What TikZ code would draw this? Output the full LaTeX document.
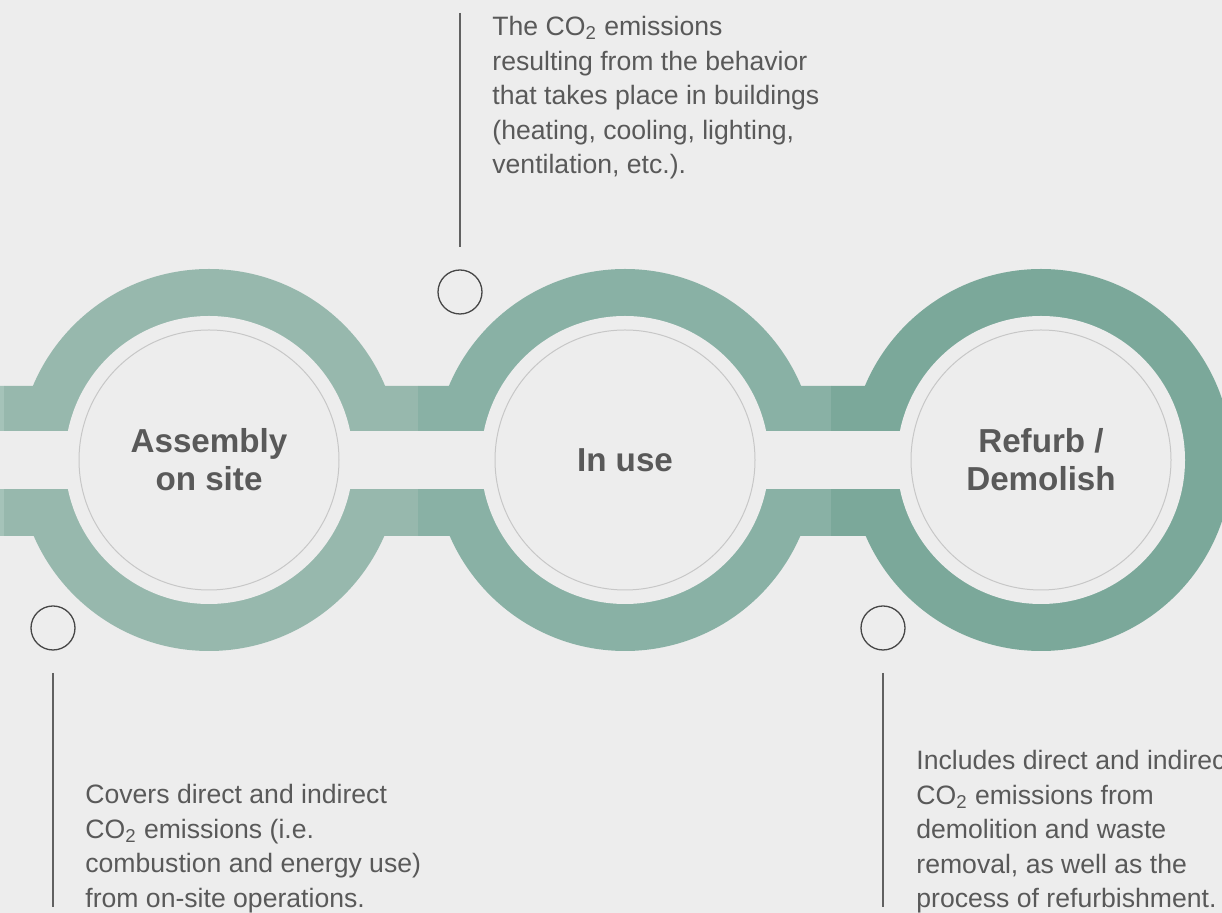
\documentclass[tikz,border=0pt]{standalone}
\usepackage{fontspec}
\setmainfont{Liberation Sans}
\usetikzlibrary{positioning,backgrounds}

\definecolor{bg}{HTML}{EDEDED}
\definecolor{ringz}{HTML}{A5C3B9}
\definecolor{ringa}{HTML}{97B8AD}
\definecolor{ringb}{HTML}{89B1A5}
\definecolor{ringc}{HTML}{7BA89A}
\definecolor{txt}{HTML}{595959}

\begin{document}
\begin{tikzpicture}[x=0.5pt,y=-0.5pt,node distance=208pt,on grid,
    stage/.style={circle,draw=black!22,line width=0.5pt,minimum size=130pt,inner sep=0pt,
      align=center,text=txt,font=\bfseries\fontsize{16.6}{19}\selectfont},
    dot/.style={circle,draw=black!72,line width=0.65pt,minimum size=22pt,inner sep=0pt},
    note/.style={anchor=north west,inner sep=0pt,align=left,text=txt,
      font=\fontsize{13.3}{17.25}\selectfont},
    tick/.style={draw=black!62,line width=0.65pt}]
   \useasboundingbox (0,0) rectangle (1222,913);

   % the three stages
   \node[stage] (assembly) at (209,460) {Assembly\\on site};
   \node[stage] (inuse) [right=of assembly] {In use};
   \node[stage] (refurb) [right=of inuse] {Refurb /\\Demolish};

   % markers and leader lines
   \node[dot] (dota) at (53,628) {};
   \node[dot] (dotb) at (460,292) {};
   \node[dot] (dotc) at (883,628) {};
   \coordinate (ta) at (53,673);  \coordinate (ba) at (53,907);
   \coordinate (tb) at (460,13);  \coordinate (bb) at (460,247);
   \coordinate (tc) at (883,673); \coordinate (bc) at (883,907);
   \draw[tick] (ta) -- (ba);
   \draw[tick] (tb) -- (bb);
   \draw[tick] (tc) -- (bc);

   % notes
   \node[note] (noteb) at (492,16) {The CO\textsubscript{2} emissions\\resulting from the behavior\\that takes place in buildings\\(heating, cooling, lighting,\\ventilation, etc.).};
   \node[note] (notea) at (85,784) {Covers direct and indirect\\CO\textsubscript{2} emissions (i.e.\\combustion and energy use)\\from on-site operations.};
   \node[note] (notec) at (916,750) {Includes direct and indirect\\CO\textsubscript{2} emissions from\\demolition and waste\\removal, as well as the\\process of refurbishment.};

   \begin{scope}[on background layer]
     \fill[bg] (0,0) rectangle (1222,913);
     \fill[ringa] (assembly) circle[radius=191];
     \fill[ringb] (inuse) circle[radius=191];
     \fill[ringc] (refurb) circle[radius=191];
     \foreach \col/\from/\to in {ringz/0/4,ringa/4/418,ringb/418/831,ringc/831/1041}
       \fill[\col] (\from,386) rectangle (\to,431) (\from,489) rectangle (\to,536);
     \fill[bg] (0,431) rectangle (1041,489);
     \foreach \n in {assembly,inuse,refurb}
       \fill[bg] (\n) circle[radius=144];
   \end{scope}
\end{tikzpicture}
\end{document}
